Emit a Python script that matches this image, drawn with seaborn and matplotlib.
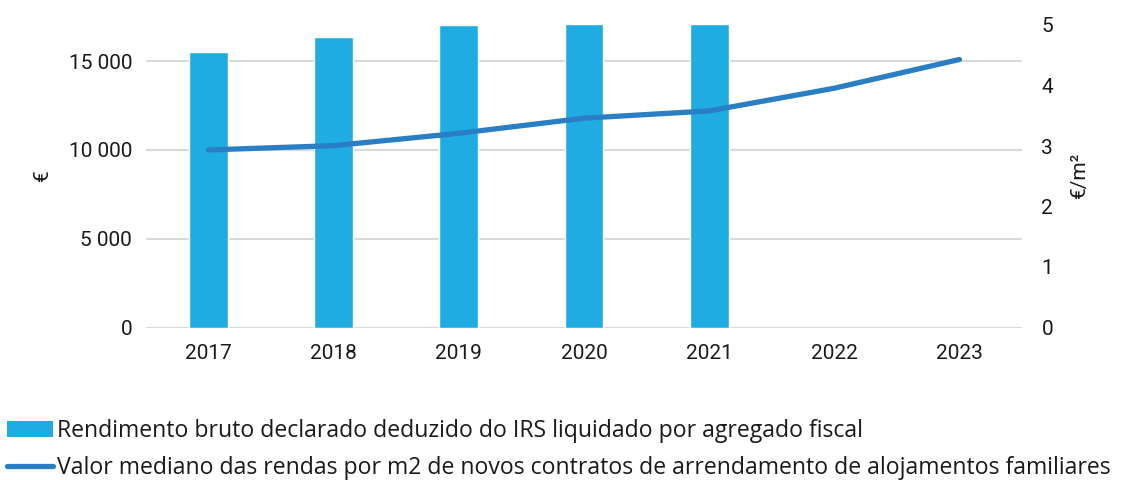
import numpy as np
import pandas as pd
import matplotlib
matplotlib.use("Agg")
import matplotlib.pyplot as plt
import seaborn as sns
from matplotlib.patches import Patch
from matplotlib.lines import Line2D

years = ["2017", "2018", "2019", "2020", "2021", "2022", "2023"]
bar_years = ["2017", "2018", "2019", "2020", "2021"]
rendimento = [15500, 16340, 17040, 17100, 17100]
renda_m2 = [2.935, 3.006, 3.21, 3.46, 3.58, 3.955, 4.43]
left_ticks = [0, 5000, 10000, 15000]
left_labels = ["0", "5 000", "10 000", "15 000"]
right_ticks = [0, 1, 2, 3, 4, 5]
label_bar = "Rendimento bruto declarado deduzido do IRS liquidado por agregado fiscal"
label_line = "Valor mediano das rendas por m2 de novos contratos de arrendamento de alojamentos familiares"

BAR_C = "#1FACE3"
LINE_C = "#2A7FC4"
GRID_C = "#D9D9D9"
TXT_C = "#1a1a1a"

sns.set_theme(style="white")
plt.rcParams["font.family"] = ["Roboto", "DejaVu Sans"]
FS = 15

fig = plt.figure(figsize=(11.24, 4.8), dpi=100)
ax = fig.add_axes([146/1124, 1-327.5/480, (1022-146)/1124, (327.5-25)/480])

df_bar = pd.DataFrame({"year": bar_years, "value": rendimento})
sns.barplot(data=df_bar, x="year", y="value", order=years, color=BAR_C,
            width=0.31, saturation=1, ax=ax, zorder=2)
ax.set_xlim(-0.5, len(years)-0.5)
ax.set_ylim(0, 17030)
ax.set_yticks(left_ticks)
ax.set_yticklabels(left_labels)
ax.yaxis.grid(True, color=GRID_C, linewidth=1.5, zorder=0)
ax.set_axisbelow(True)
for s in ax.spines.values():
    s.set_visible(False)
ax.tick_params(axis="both", length=0, labelsize=FS, colors=TXT_C, pad=10)
ax.tick_params(axis="x", pad=12)
ax.set_xlabel("")
ax.set_ylabel("€", fontsize=FS, color=TXT_C, labelpad=12)

ax2 = ax.twinx()
df_line = pd.DataFrame({"pos": np.arange(len(years)), "value": renda_m2})
sns.lineplot(data=df_line, x="pos", y="value", color=LINE_C, linewidth=3.8,
             ax=ax2, solid_capstyle="round", zorder=3)
ax2.set_ylim(0, 5)
ax2.set_yticks(right_ticks)
ax2.set_xlim(-0.5, len(years)-0.5)
for s in ax2.spines.values():
    s.set_visible(False)
ax2.tick_params(axis="y", length=0, labelsize=FS, colors=TXT_C, pad=14)
ax2.set_ylabel("€/m²", fontsize=FS, color=TXT_C, labelpad=12)
ax2.set_xlabel("")
ax2.grid(False)

handles = [Patch(facecolor=BAR_C, edgecolor="none"),
           Line2D([0], [0], color=LINE_C, linewidth=3.8, solid_capstyle="round")]
fig.legend(handles, [label_bar, label_line], loc="lower left",
           bbox_to_anchor=(-0.006, -0.029), frameon=False,
           prop={"family": ["Open Sans", "DejaVu Sans"], "size": 16.6},
           handlelength=2.0, handletextpad=0.15, labelspacing=0.55,
           borderaxespad=0.2, labelcolor=TXT_C)

fig.savefig("out.png", dpi=100)
